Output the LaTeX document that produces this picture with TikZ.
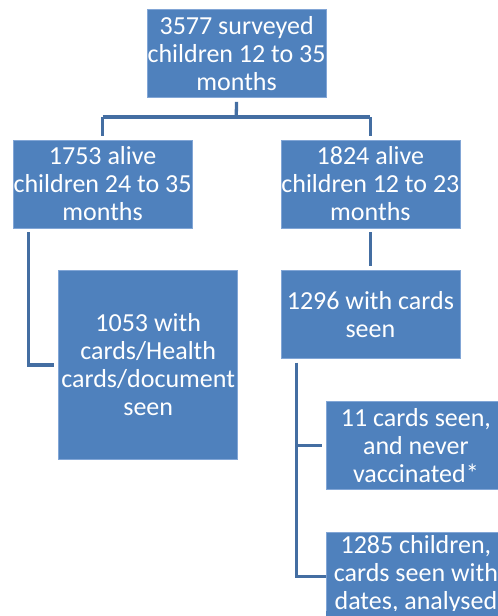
\documentclass[tikz,border=0pt]{standalone}
\usepackage{fontspec}
\setmainfont{Carlito}
\definecolor{boxfill}{RGB}{79,129,189}
\definecolor{boxline}{RGB}{130,166,214}
\definecolor{connline}{RGB}{68,110,162}
\begin{document}
\begin{tikzpicture}[x=1pt,y=-1pt,
  fbox/.style={rectangle, fill=boxfill, draw=boxline, line width=0.8pt,
    text=white, align=center, inner sep=0pt, anchor=north west,
    minimum width=179pt, minimum height=88pt,
    font=\fontsize{26}{28}\selectfont},
  conn/.style={draw=connline, line width=3.3pt}]
\useasboundingbox (0,0) rectangle (498,616);
\node[fbox] (top) at (146.7,9) {3577 surveyed\\children 12 to 35\\months};
\node[fbox] (left) at (12.7,139.5) {1753 alive\\children 24 to 35\\months};
\node[fbox] (right) at (280.5,139.5) {1824 alive\\children 12 to 23\\months};
\node[fbox, minimum height=189pt] (b1053) at (58.3,270) {1053 with\\cards/Health\\cards/document\\seen};
\node[fbox] (b1296) at (280.5,270) {1296 with cards\\seen};
\node[fbox] (b11) at (326,401) {11 cards seen,\\and never\\vaccinated*};
\node[fbox, minimum height=84pt] (b1285) at (326,532) {1285 children,\\cards seen with\\dates, analysed};
\coordinate (split) at (236.2,117);
\coordinate (trunk) at (296.7,362.7);
\coordinate (lowend) at (296.7,576.7);
\draw[conn] ([yshift=-4pt]top.south) -- (split);
\draw[conn] (split -| left.north) -- (split -| right.north);
\draw[conn] (split -| left.north) -- ([yshift=4pt]left.north);
\draw[conn] (split -| right.north) -- ([yshift=4pt]right.north);
\draw[conn] ([xshift=16pt,yshift=-4pt]left.south west) |- ([xshift=-4pt]b1053.west);
\draw[conn] ([yshift=-4pt]right.south) -- ([yshift=4pt]b1296.north);
\draw[conn] (trunk) -- (lowend) -- (lowend -| b1285.west) -- +(-4,0);
\draw[conn] (trunk |- b11.west) -- ([xshift=-4pt]b11.west);
\fill[boxfill] (326,616) rectangle (498,611);
\end{tikzpicture}
\end{document}
